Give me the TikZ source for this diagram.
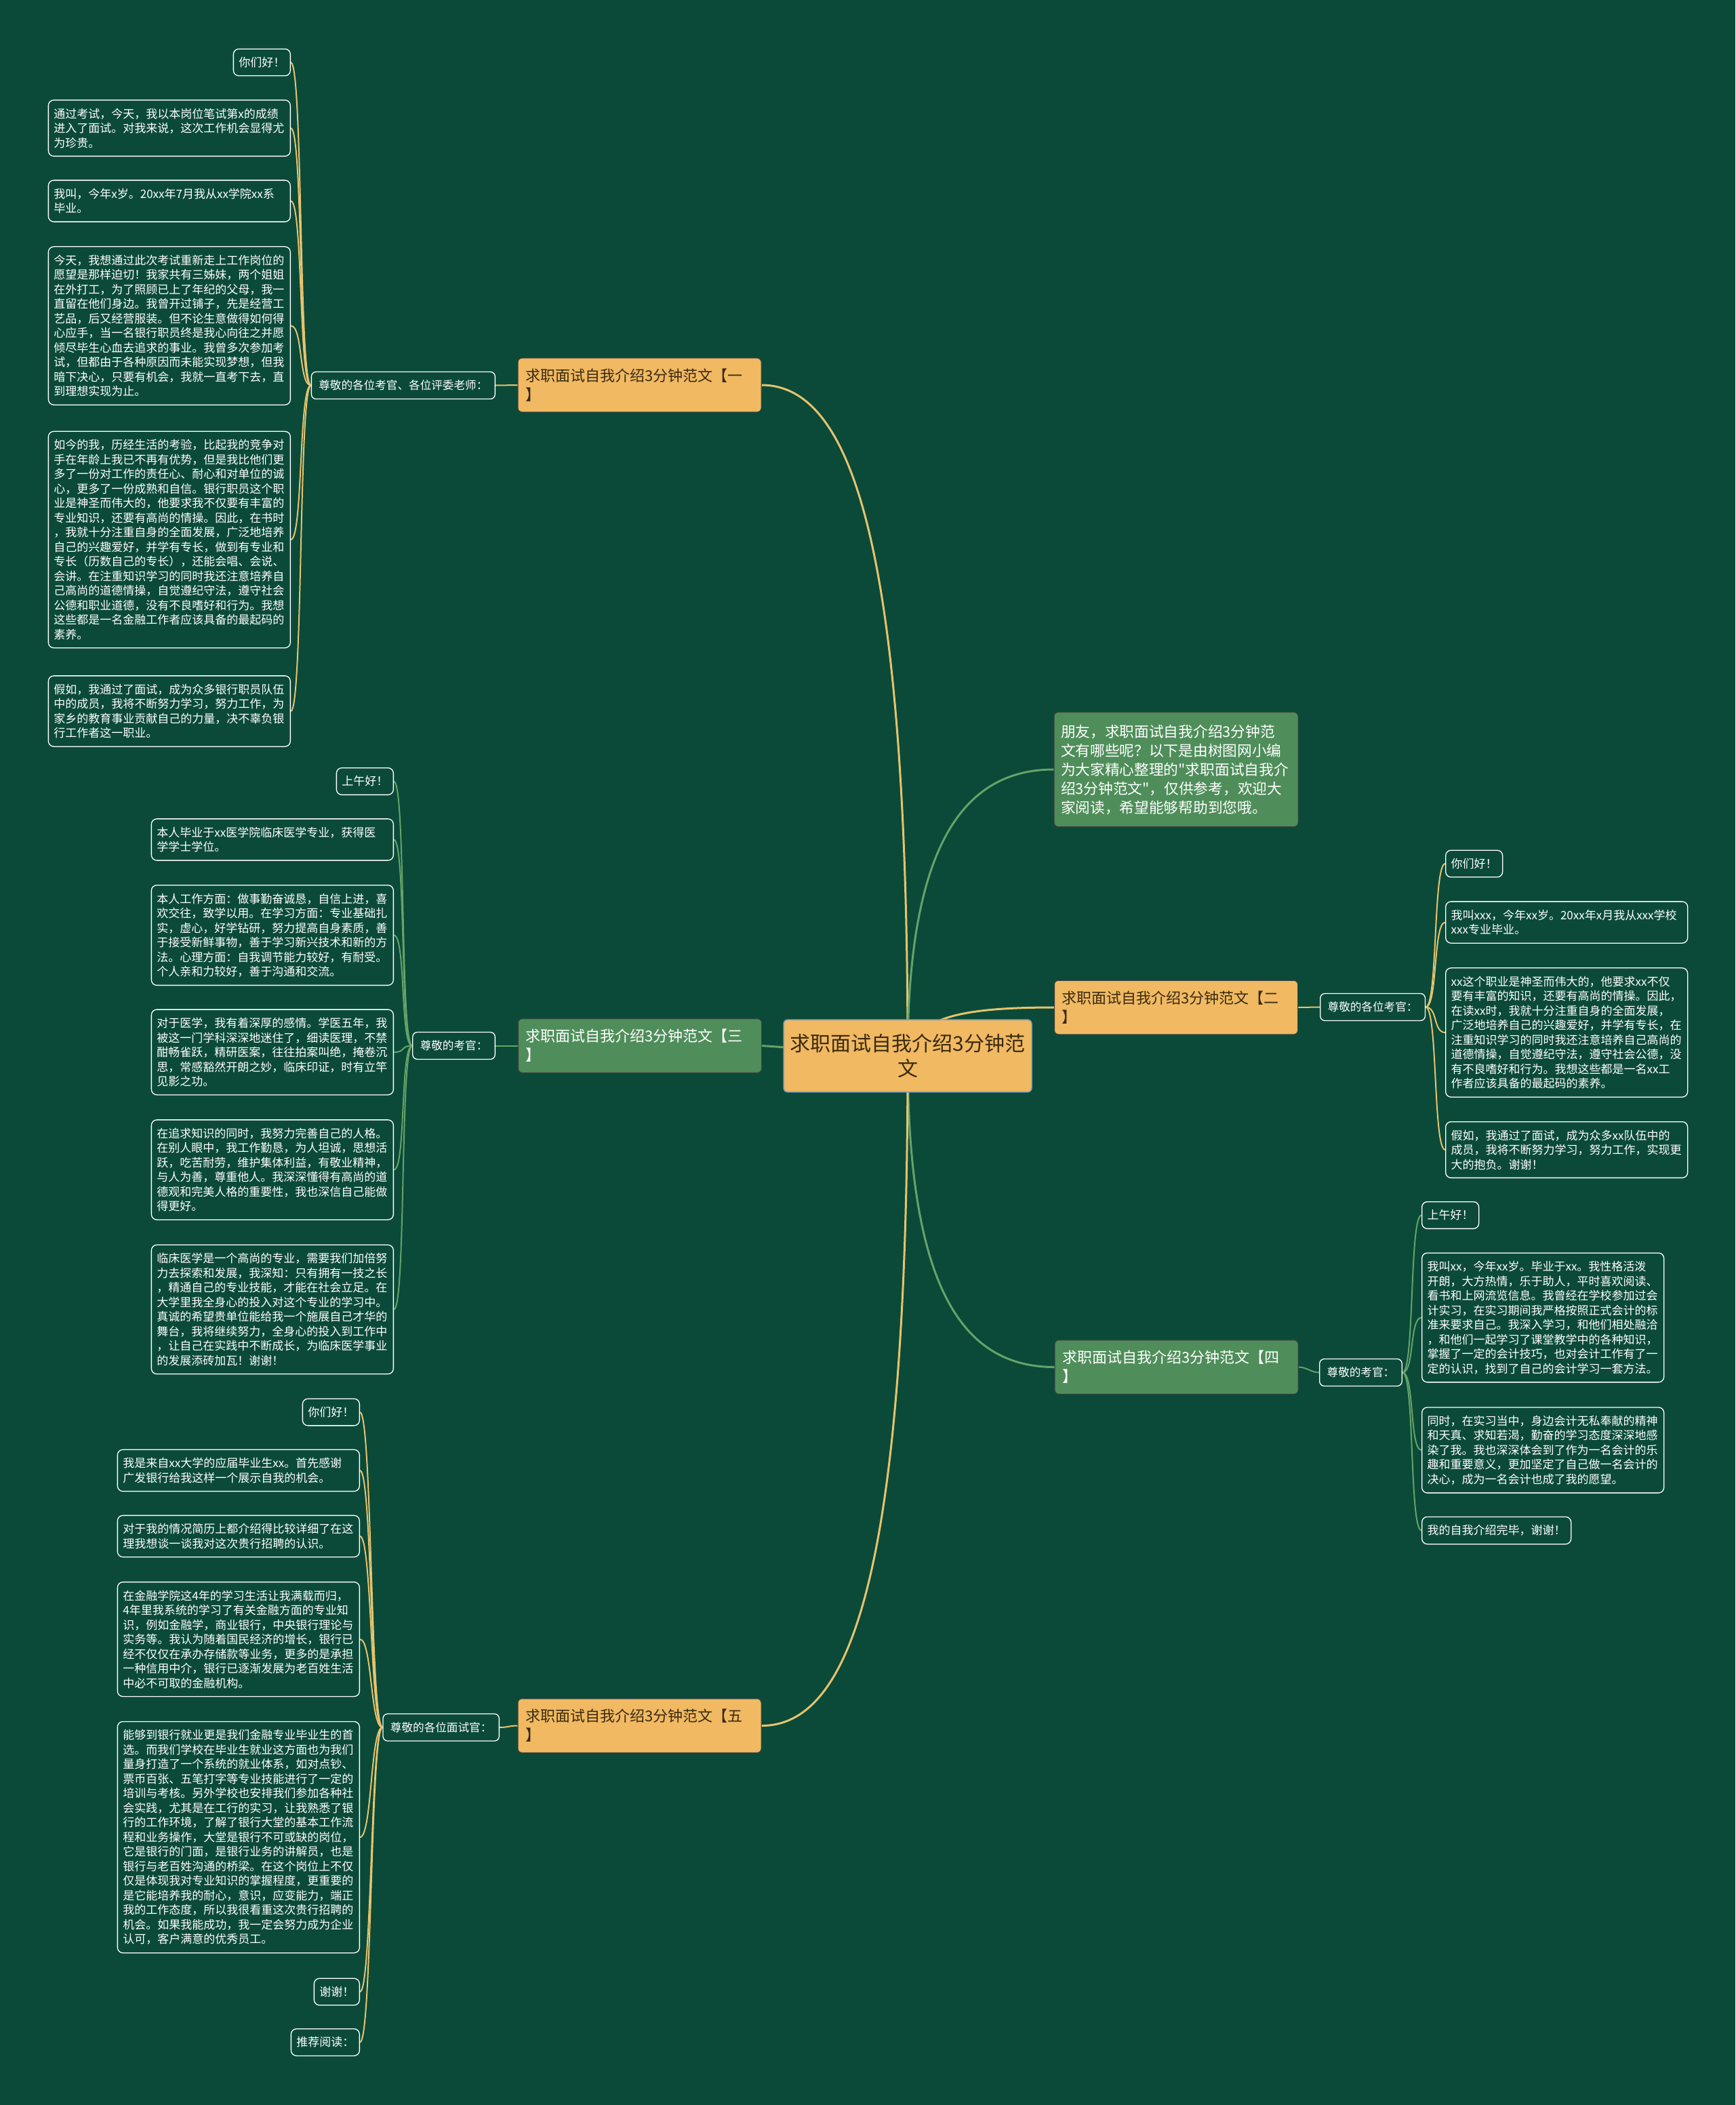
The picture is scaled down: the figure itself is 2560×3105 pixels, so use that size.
\documentclass[tikz,border=0pt]{standalone}
\usepackage{fontspec}
\newfontfamily\cjk{Noto Sans CJK SC}
\definecolor{bgc}{HTML}{0B4A39}
\definecolor{orn}{HTML}{F0B962}
\definecolor{grn}{HTML}{4F8E5A}
\definecolor{gold}{HTML}{E6C36E}
\definecolor{lgrn}{HTML}{64A468}
\definecolor{dtext}{HTML}{3A2A10}
\definecolor{cborder}{HTML}{7C9CC0}
\pgfdeclarelayer{bglayer}
\pgfdeclarelayer{edgelayer}
\pgfsetlayers{bglayer,edgelayer,main}
\begin{document}
\begin{tikzpicture}[x=1pt,y=-1pt,
  leaf/.style={draw=white, line width=1.3pt, rounded corners=8pt, fill=bgc, text=white,
    font=\cjk\fontsize{17}{21.5}\selectfont, inner xsep=8pt, inner ysep=12pt, align=left},
  leafw/.style={leaf, text width=341pt},
  lab/.style={draw=white, line width=1.3pt, rounded corners=7pt, fill=bgc, text=white,
    font=\cjk\fontsize{16.6}{20}\selectfont, inner xsep=11pt, inner ysep=12.3pt},
  branch/.style={rounded corners=6pt, draw=black!75, line width=1pt,
    font=\cjk\fontsize{22}{28}\selectfont, align=left, text width=337pt,
    inner xsep=11pt, inner ysep=15.5pt},
  obranch/.style={branch, fill=orn, text=dtext},
  gbranch/.style={branch, fill=grn, text=white},
  centre/.style={rounded corners=6pt, draw=cborder, line width=1.5pt, fill=orn, text=dtext,
    font=\cjk\fontsize{30}{37}\selectfont, align=center, minimum width=366pt,
    inner ysep=21pt},
  intro/.style={rounded corners=6pt, draw=black!75, line width=1pt, fill=grn, text=white,
    font=\cjk\fontsize{21.7}{28}\selectfont, align=left, text width=340pt,
    inner xsep=10pt, inner ysep=18pt},
  mainO/.style={draw=gold, line width=3pt},
  mainG/.style={draw=lgrn, line width=3pt},
  subO/.style={draw=gold, line width=2pt},
  subG/.style={draw=lgrn, line width=2pt}
]
\begin{pgfonlayer}{bglayer}
\fill[bgc] (0,0) rectangle (2560,3105);
\end{pgfonlayer}
\useasboundingbox (0,0) rectangle (2560,3105);

% centre
\node[centre] (c) at (1339,1557.5) {求职面试自我介绍3分钟范\\文};

% branches
\node[obranch] (b1) at (943.5,568) {求职面试自我介绍3分钟范文【一\\】};
\node[gbranch] (b3) at (944,1542.5) {求职面试自我介绍3分钟范文【三\\】};
\node[obranch] (b5) at (943.5,2545.5) {求职面试自我介绍3分钟范文【五\\】};
\node[intro] (in) at (1735,1135) {朋友，求职面试自我介绍3分钟范\\文有哪些呢？以下是由树图网小编\\为大家精心整理的"求职面试自我介\\绍3分钟范文"，仅供参考，欢迎大\\家阅读，希望能够帮助到您哦。};
\node[obranch] (b2) at (1735,1486) {求职面试自我介绍3分钟范文【二\\】};
\node[gbranch] (b4) at (1735.5,2016.5) {求职面试自我介绍3分钟范文【四\\】};

% labels
\node[lab, anchor=east] (lab1) at (731,568.5) {尊敬的各位考官、各位评委老师：};
\node[lab, anchor=east] (lab3) at (731,1542.5) {尊敬的考官：};
\node[lab, anchor=east] (lab5) at (737,2548) {尊敬的各位面试官：};
\node[lab, anchor=west] (lab2) at (1947,1485.5) {尊敬的各位考官：};
\node[lab, anchor=west] (lab4) at (1946,2024.5) {尊敬的考官：};

% branch 1 leaves
\node[leaf, anchor=east] (l1a) at (429,92) {你们好！};
\node[leafw, anchor=east] (l1b) at (429,189) {通过考试，今天，我以本岗位笔试第x的成绩\\进入了面试。对我来说，这次工作机会显得尤\\为珍贵。};
\node[leafw, anchor=east] (l1c) at (429,296.5) {我叫，今年x岁。20xx年7月我从xx学院xx系\\毕业。};
\node[leafw, anchor=east] (l1d) at (429,480.5) {今天，我想通过此次考试重新走上工作岗位的\\愿望是那样迫切！我家共有三姊妹，两个姐姐\\在外打工，为了照顾已上了年纪的父母，我一\\直留在他们身边。我曾开过铺子，先是经营工\\艺品，后又经营服装。但不论生意做得如何得\\心应手，当一名银行职员终是我心向往之并愿\\倾尽毕生心血去追求的事业。我曾多次参加考\\试，但都由于各种原因而未能实现梦想，但我\\暗下决心，只要有机会，我就一直考下去，直\\到理想实现为止。};
\node[leafw, anchor=east] (l1e) at (429,796) {如今的我，历经生活的考验，比起我的竞争对\\手在年龄上我已不再有优势，但是我比他们更\\多了一份对工作的责任心、耐心和对单位的诚\\心，更多了一份成熟和自信。银行职员这个职\\业是神圣而伟大的，他要求我不仅要有丰富的\\专业知识，还要有高尚的情操。因此，在书时\\，我就十分注重自身的全面发展，广泛地培养\\自己的兴趣爱好，并学有专长，做到有专业和\\专长（历数自己的专长），还能会唱、会说、\\会讲。在注重知识学习的同时我还注意培养自\\己高尚的道德情操，自觉遵纪守法，遵守社会\\公德和职业道德，没有不良嗜好和行为。我想\\这些都是一名金融工作者应该具备的最起码的\\素养。};
\node[leafw, anchor=east] (l1f) at (429,1049) {假如，我通过了面试，成为众多银行职员队伍\\中的成员，我将不断努力学习，努力工作，为\\家乡的教育事业贡献自己的力量，决不辜负银\\行工作者这一职业。};

% branch 3 leaves
\node[leaf, anchor=east] (l3a) at (581,1152.5) {上午好！};
\node[leafw, anchor=east] (l3b) at (581,1238.5) {本人毕业于xx医学院临床医学专业，获得医\\学学士学位。};
\node[leafw, anchor=east] (l3c) at (581,1379.5) {本人工作方面：做事勤奋诚恳，自信上进，喜\\欢交往，致学以用。在学习方面：专业基础扎\\实，虚心，好学钻研，努力提高自身素质，善\\于接受新鲜事物，善于学习新兴技术和新的方\\法。心理方面：自我调节能力较好，有耐受。\\个人亲和力较好，善于沟通和交流。};
\node[leafw, anchor=east] (l3d) at (581,1552) {对于医学，我有着深厚的感情。学医五年，我\\被这一门学科深深地迷住了，细读医理，不禁\\酣畅雀跃，精研医案，往往拍案叫绝，掩卷沉\\思，常感豁然开朗之妙，临床印证，时有立竿\\见影之功。};
\node[leafw, anchor=east] (l3e) at (581,1725.5) {在追求知识的同时，我努力完善自己的人格。\\在别人眼中，我工作勤恳，为人坦诚，思想活\\跃，吃苦耐劳，维护集体利益，有敬业精神，\\与人为善，尊重他人。我深深懂得有高尚的道\\德观和完美人格的重要性，我也深信自己能做\\得更好。};
\node[leafw, anchor=east] (l3f) at (581,1931.5) {临床医学是一个高尚的专业，需要我们加倍努\\力去探索和发展，我深知：只有拥有一技之长\\，精通自己的专业技能，才能在社会立足。在\\大学里我全身心的投入对这个专业的学习中。\\真诚的希望贵单位能给我一个施展自己才华的\\舞台，我将继续努力，全身心的投入到工作中\\，让自己在实践中不断成长，为临床医学事业\\的发展添砖加瓦！谢谢！};

% branch 5 leaves
\node[leaf, anchor=east] (l5a) at (531,2083) {你们好！};
\node[leafw, anchor=east] (l5b) at (531,2169) {我是来自xx大学的应届毕业生xx。首先感谢\\广发银行给我这样一个展示自我的机会。};
\node[leafw, anchor=east] (l5c) at (531,2266) {对于我的情况简历上都介绍得比较详细了在这\\理我想谈一谈我对这次贵行招聘的认识。};
\node[leafw, anchor=east] (l5d) at (531,2418) {在金融学院这4年的学习生活让我满载而归，\\4年里我系统的学习了有关金融方面的专业知\\识，例如金融学，商业银行，中央银行理论与\\实务等。我认为随着国民经济的增长，银行已\\经不仅仅在承办存储款等业务，更多的是承担\\一种信用中介，银行已逐渐发展为老百姓生活\\中必不可取的金融机构。};
\node[leafw, anchor=east] (l5e) at (531,2710) {能够到银行就业更是我们金融专业毕业生的首\\选。而我们学校在毕业生就业这方面也为我们\\量身打造了一个系统的就业体系，如对点钞、\\票币百张、五笔打字等专业技能进行了一定的\\培训与考核。另外学校也安排我们参加各种社\\会实践，尤其是在工行的实习，让我熟悉了银\\行的工作环境，了解了银行大堂的基本工作流\\程和业务操作，大堂是银行不可或缺的岗位，\\它是银行的门面，是银行业务的讲解员，也是\\银行与老百姓沟通的桥梁。在这个岗位上不仅\\仅是体现我对专业知识的掌握程度，更重要的\\是它能培养我的耐心，意识，应变能力，端正\\我的工作态度，所以我很看重这次贵行招聘的\\机会。如果我能成功，我一定会努力成为企业\\认可，客户满意的优秀员工。};
\node[leaf, anchor=east] (l5f) at (531,2938) {谢谢！};
\node[leaf, anchor=east] (l5g) at (531,3012.5) {推荐阅读：};

% branch 2 leaves
\node[leaf, anchor=west] (l2a) at (2132,1274) {你们好！};
\node[leafw, anchor=west] (l2b) at (2132,1360.5) {我叫xxx，今年xx岁。20xx年x月我从xxx学校\\xxx专业毕业。};
\node[leafw, anchor=west] (l2c) at (2132,1523) {xx这个职业是神圣而伟大的，他要求xx不仅\\要有丰富的知识，还要有高尚的情操。因此，\\在读xx时，我就十分注重自身的全面发展，\\广泛地培养自己的兴趣爱好，并学有专长，在\\注重知识学习的同时我还注意培养自己高尚的\\道德情操，自觉遵纪守法，遵守社会公德，没\\有不良嗜好和行为。我想这些都是一名xx工\\作者应该具备的最起码的素养。};
\node[leafw, anchor=west] (l2d) at (2132,1696) {假如，我通过了面试，成为众多xx队伍中的\\成员，我将不断努力学习，努力工作，实现更\\大的抱负。谢谢！};

% branch 4 leaves
\node[leaf, anchor=west] (l4a) at (2097,1792.5) {上午好！};
\node[leafw, anchor=west] (l4b) at (2097,1943.5) {我叫xx，今年xx岁。毕业于xx。我性格活泼\\开朗，大方热情，乐于助人，平时喜欢阅读、\\看书和上网流览信息。我曾经在学校参加过会\\计实习，在实习期间我严格按照正式会计的标\\准来要求自己。我深入学习，和他们相处融洽\\，和他们一起学习了课堂教学中的各种知识，\\掌握了一定的会计技巧，也对会计工作有了一\\定的认识，找到了自己的会计学习一套方法。};
\node[leafw, anchor=west] (l4c) at (2097,2139) {同时，在实习当中，身边会计无私奉献的精神\\和天真、求知若渴，勤奋的学习态度深深地感\\染了我。我也深深体会到了作为一名会计的乐\\趣和重要意义，更加坚定了自己做一名会计的\\决心，成为一名会计也成了我的愿望。};
\node[leaf, anchor=west] (l4d) at (2097,2257.5) {我的自我介绍完毕，谢谢！};

\begin{pgfonlayer}{edgelayer}
% centre to branches
\draw[mainO] (c.center) .. controls (1339,820) and (1260,568) .. (b1.east);
\draw[mainG] (c.center) .. controls (1339,1250) and (1420,1135) .. (in.west);
\draw[mainO] (c.center) .. controls (1350,1500) and (1420,1486) .. (b2.west);
\draw[mainG] (c.center) -- (b3.east);
\draw[mainG] (c.center) .. controls (1339,1900) and (1420,2016.5) .. (b4.west);
\draw[mainO] (c.center) .. controls (1339,2300) and (1260,2545.5) .. (b5.east);
% branches to labels
\draw[subO] (b1.west) -- (lab1.east);
\draw[subG] (b3.west) -- (lab3.east);
\draw[subO] (b5.west) .. controls +(-12,0) and +(12,0) .. (lab5.east);
\draw[subO] (b2.east) -- (lab2.west);
\draw[subG] (b4.east) .. controls +(12,0) and +(-12,0) .. (lab4.west);
% labels to leaves (left)
\foreach \l in {l1a,l1b,l1c,l1d,l1e,l1f}
  \draw[subO] (lab1.west) .. controls +(-18,0) and +(18,0) .. (\l.east);
\foreach \l in {l3a,l3b,l3c,l3d,l3e,l3f}
  \draw[subG] (lab3.west) .. controls +(-18,0) and +(18,0) .. (\l.east);
\foreach \l in {l5a,l5b,l5c,l5d,l5e,l5f,l5g}
  \draw[subO] (lab5.west) .. controls +(-18,0) and +(18,0) .. (\l.east);
% labels to leaves (right)
\foreach \l in {l2a,l2b,l2c,l2d}
  \draw[subO] (lab2.east) .. controls +(18,0) and +(-18,0) .. (\l.west);
\foreach \l in {l4a,l4b,l4c,l4d}
  \draw[subG] (lab4.east) .. controls +(18,0) and +(-18,0) .. (\l.west);
\end{pgfonlayer}
\end{tikzpicture}
\end{document}
